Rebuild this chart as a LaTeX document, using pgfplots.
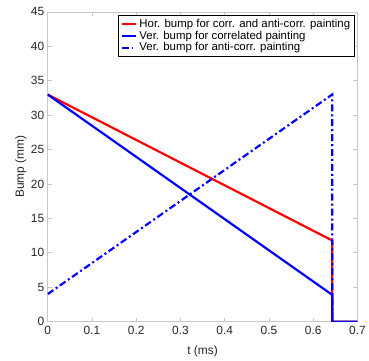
\documentclass[border=0pt]{standalone}
\usepackage{pgfplots}
\pgfplotsset{compat=1.18}
\usepackage{fontspec}
\setmainfont{Liberation Sans}
\definecolor{axgray}{RGB}{38,38,38}
\definecolor{framegray}{RGB}{200,200,200}
\begin{document}
\begin{tikzpicture}
\begin{axis}[
  scale only axis,
  width=312pt, height=312pt,
  xmin=0, xmax=0.7, ymin=0, ymax=45,
  xtick={0,0.1,...,0.7},
  ytick={0,5,...,45},
  xticklabels={0,0.1,0.2,0.3,0.4,0.5,0.6,0.7},
  tick align=inside,
  major tick length=4pt,
  axis line style={framegray, line width=0.7pt},
  tick style={framegray, line width=0.7pt},
  ticklabel style={font=\fontsize{12}{13}\selectfont, text=axgray},
  xticklabel style={yshift=-1pt},
  /pgf/number format/assume math mode=true,
  xlabel={t (ms)}, ylabel={Bump (mm)},
  label style={font=\fontsize{12}{13}\selectfont, text=axgray},
  xlabel style={at={(axis description cs:0.5,0)}, anchor=base, yshift=-33pt},
  ylabel style={at={(axis description cs:-0.087,0.5)}, anchor=center, rotate=0},
  legend style={at={(0.99,0.99)}, anchor=north east, font=\fontsize{11.5}{12}\selectfont,
    draw=black, inner sep=2pt, row sep=-2pt},
  legend cell align=left,
  legend image code/.code={\draw[#1, line width=2pt] (0pt,0pt) -- (15pt,0pt);},
]
\addplot[red, line width=2.2pt] coordinates {(0,33) (0.643,11.8) (0.643,0) (0.7,0)};
\addlegendentry{Hor. bump for corr. and anti-corr. painting}
\addplot[blue, line width=2.2pt] coordinates {(0,33) (0.643,3.9) (0.643,0) (0.7,0)};
\addlegendentry{Ver. bump for correlated painting}
\addplot[blue, line width=2.2pt, dash pattern=on 7pt off 3pt on 2pt off 3pt] coordinates {(0,4) (0.643,33) (0.643,0)};
\addlegendentry{Ver. bump for anti-corr. painting}
\end{axis}
\path ([xshift=-48pt,yshift=-37pt]current axis.south west) rectangle ([xshift=9pt,yshift=12pt]current axis.north east);
\end{tikzpicture}
\end{document}
